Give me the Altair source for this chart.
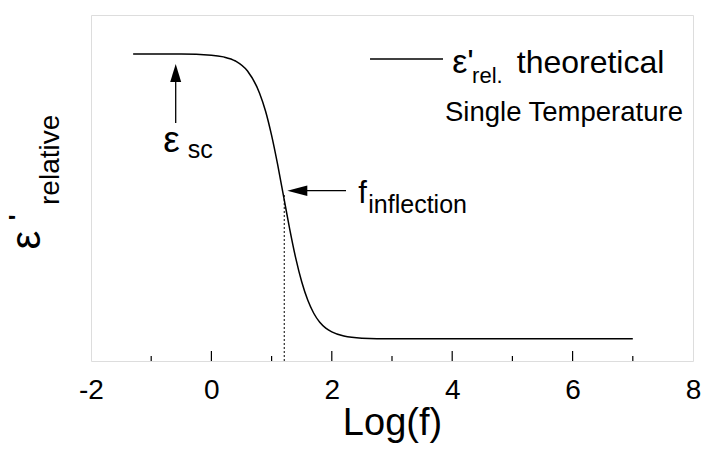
import altair as alt
import pandas as pd

# ---- data ----
log_f = [-1.3, -0.5, 0.0, 0.2, 0.4, 0.6, 0.8, 0.9, 1.0, 1.1, 1.2, 1.3, 1.4,
         1.5, 1.6, 1.7, 1.8, 1.9, 2.0, 2.2, 2.5, 3.0, 4.0, 5.0, 6.0, 7.0]
eps_rel = [8.87, 8.87, 8.84, 8.79, 8.67, 8.38, 7.74, 7.22, 6.52, 5.68, 4.75,
           3.82, 2.98, 2.29, 1.76, 1.38, 1.12, 0.95, 0.84, 0.72, 0.66, 0.64,
           0.64, 0.64, 0.64, 0.64]
x_tick_labels = [-2, 0, 2, 4, 6, 8]
major_ticks = [0, 2, 4, 6]
minor_ticks = [-1, 1, 3, 5, 7]
f_inflection = 1.21
eps_inflection = 4.80

# annotation texts
ann_text = ["ε", "sc", "f", "inflection", "ε'", "rel.", "theoretical", "Single Temperature"]
ann_x = [-0.80, -0.394, 2.440, 2.606, 4.000, 4.330, 5.072, 3.880]
ann_y = [6.049, 5.858, 4.558, 4.269, 8.315, 8.026, 8.315, 6.945]
ann_size = [37, 25, 31, 25, 34, 22, 32, 27.5]

ytitle_text = ["ε", "relative", "'"]
ytitle_x = [-2.84, -2.537, -3.08]
ytitle_y = [3.22, 4.509, 4.07]
ytitle_size = [42, 28, 24]

FONT = "Liberation Sans"
W, H = 602, 346

xs = alt.Scale(domain=[-2, 8], nice=False, zero=False)
ys = alt.Scale(domain=[0, 10], nice=False, zero=False)

curve_df = pd.DataFrame({"x": log_f, "y": eps_rel})

base_x = alt.X("x:Q", scale=xs,
               axis=alt.Axis(values=x_tick_labels, ticks=False, domain=False, grid=False,
                             labelExpr="'' + datum.value",
                             labelFontSize=28, labelFont=FONT, labelColor="black",
                             labelPadding=15, title="Log(f)", titleFont=FONT,
                             titleFontSize=38, titleFontWeight="normal", titleColor="black",
                             titlePadding=0, labelFlush=False))

curve = alt.Chart(curve_df).mark_line(color="black", strokeWidth=1.5, interpolate="monotone").encode(
    x=base_x,
    y=alt.Y("y:Q", scale=ys, axis=None),
)

maj_df = pd.DataFrame({"x": major_ticks})
min_df = pd.DataFrame({"x": minor_ticks})
maj = alt.Chart(maj_df).mark_rule(color="black", strokeWidth=1.2).encode(
    x=alt.X("x:Q", scale=xs), y=alt.value(H - 10), y2=alt.value(H))
mnr = alt.Chart(min_df).mark_rule(color="black", strokeWidth=1.2).encode(
    x=alt.X("x:Q", scale=xs), y=alt.value(H - 5), y2=alt.value(H))

dot_df = pd.DataFrame({"x": [f_inflection], "y": [0.0], "y2": [eps_inflection]})
dotted = alt.Chart(dot_df).mark_rule(color="black", strokeWidth=1, strokeDash=[2, 2]).encode(
    x=alt.X("x:Q", scale=xs), y=alt.Y("y:Q", scale=ys), y2="y2:Q")

# arrows
vshaft_df = pd.DataFrame({"x": [-0.593], "y": [6.879], "y2": [8.12]})
vshaft = alt.Chart(vshaft_df).mark_rule(color="black", strokeWidth=1.3).encode(
    x=alt.X("x:Q", scale=xs), y=alt.Y("y:Q", scale=ys), y2="y2:Q")
vhead_df = pd.DataFrame({"x": [-0.593], "y": [8.324]})
vhead = alt.Chart(vhead_df).mark_point(shape="M0,-1 L0.61,1 L-0.61,1 Z", filled=True,
                                       color="black", size=324, opacity=1).encode(
    x=alt.X("x:Q", scale=xs), y=alt.Y("y:Q", scale=ys))

hshaft_df = pd.DataFrame({"x": [1.555], "x2": [2.236], "y": [4.922]})
hshaft = alt.Chart(hshaft_df).mark_rule(color="black", strokeWidth=1.3).encode(
    x=alt.X("x:Q", scale=xs), x2="x2:Q", y=alt.Y("y:Q", scale=ys))
hhead_df = pd.DataFrame({"x": [1.427], "y": [4.922]})
hhead = alt.Chart(hhead_df).mark_point(shape="M-1,0 L1,-0.53 L1,0.53 Z", filled=True,
                                       color="black", size=400, opacity=1).encode(
    x=alt.X("x:Q", scale=xs), y=alt.Y("y:Q", scale=ys))

# legend line
leg_df = pd.DataFrame({"x": [2.635], "x2": [3.847], "y": [8.728]})
leg = alt.Chart(leg_df).mark_rule(color="black", strokeWidth=1.3).encode(
    x=alt.X("x:Q", scale=xs), x2="x2:Q", y=alt.Y("y:Q", scale=ys))

ann_df = pd.DataFrame({"x": ann_x, "y": ann_y, "t": ann_text, "s": ann_size})
ann = alt.Chart(ann_df).mark_text(align="left", baseline="alphabetic", font=FONT,
                                  color="black").encode(
    x=alt.X("x:Q", scale=xs), y=alt.Y("y:Q", scale=ys), text="t:N",
    size=alt.Size("s:Q", scale=None, legend=None))

yt_df = pd.DataFrame({"x": ytitle_x, "y": ytitle_y, "t": ytitle_text, "s": ytitle_size})
yt_plain = yt_df[yt_df["t"] != "'"]
yt_prime = yt_df[yt_df["t"] == "'"]
yt1 = alt.Chart(yt_plain).mark_text(align="left", baseline="alphabetic", font=FONT,
                                    color="black", angle=270, clip=False).encode(
    x=alt.X("x:Q", scale=xs), y=alt.Y("y:Q", scale=ys), text="t:N",
    size=alt.Size("s:Q", scale=None, legend=None))
yt2 = alt.Chart(yt_prime).mark_text(align="left", baseline="alphabetic", font=FONT,
                                    color="black", angle=270, fontWeight="bold", clip=False).encode(
    x=alt.X("x:Q", scale=xs), y=alt.Y("y:Q", scale=ys), text="t:N",
    size=alt.Size("s:Q", scale=None, legend=None))

chart = alt.layer(curve, maj, mnr, dotted, vshaft, vhead, hshaft, hhead, leg, ann, yt1, yt2).properties(
    width=W, height=H,
    padding={"left": 91, "top": 15, "right": 11, "bottom": 89},
    autosize=alt.AutoSizeParams(type="none"),
    background="white",
).configure_view(stroke="black", strokeWidth=1.5).configure(font=FONT)

chart.save("out.html", embed_options={"renderer": "svg", "actions": False})
